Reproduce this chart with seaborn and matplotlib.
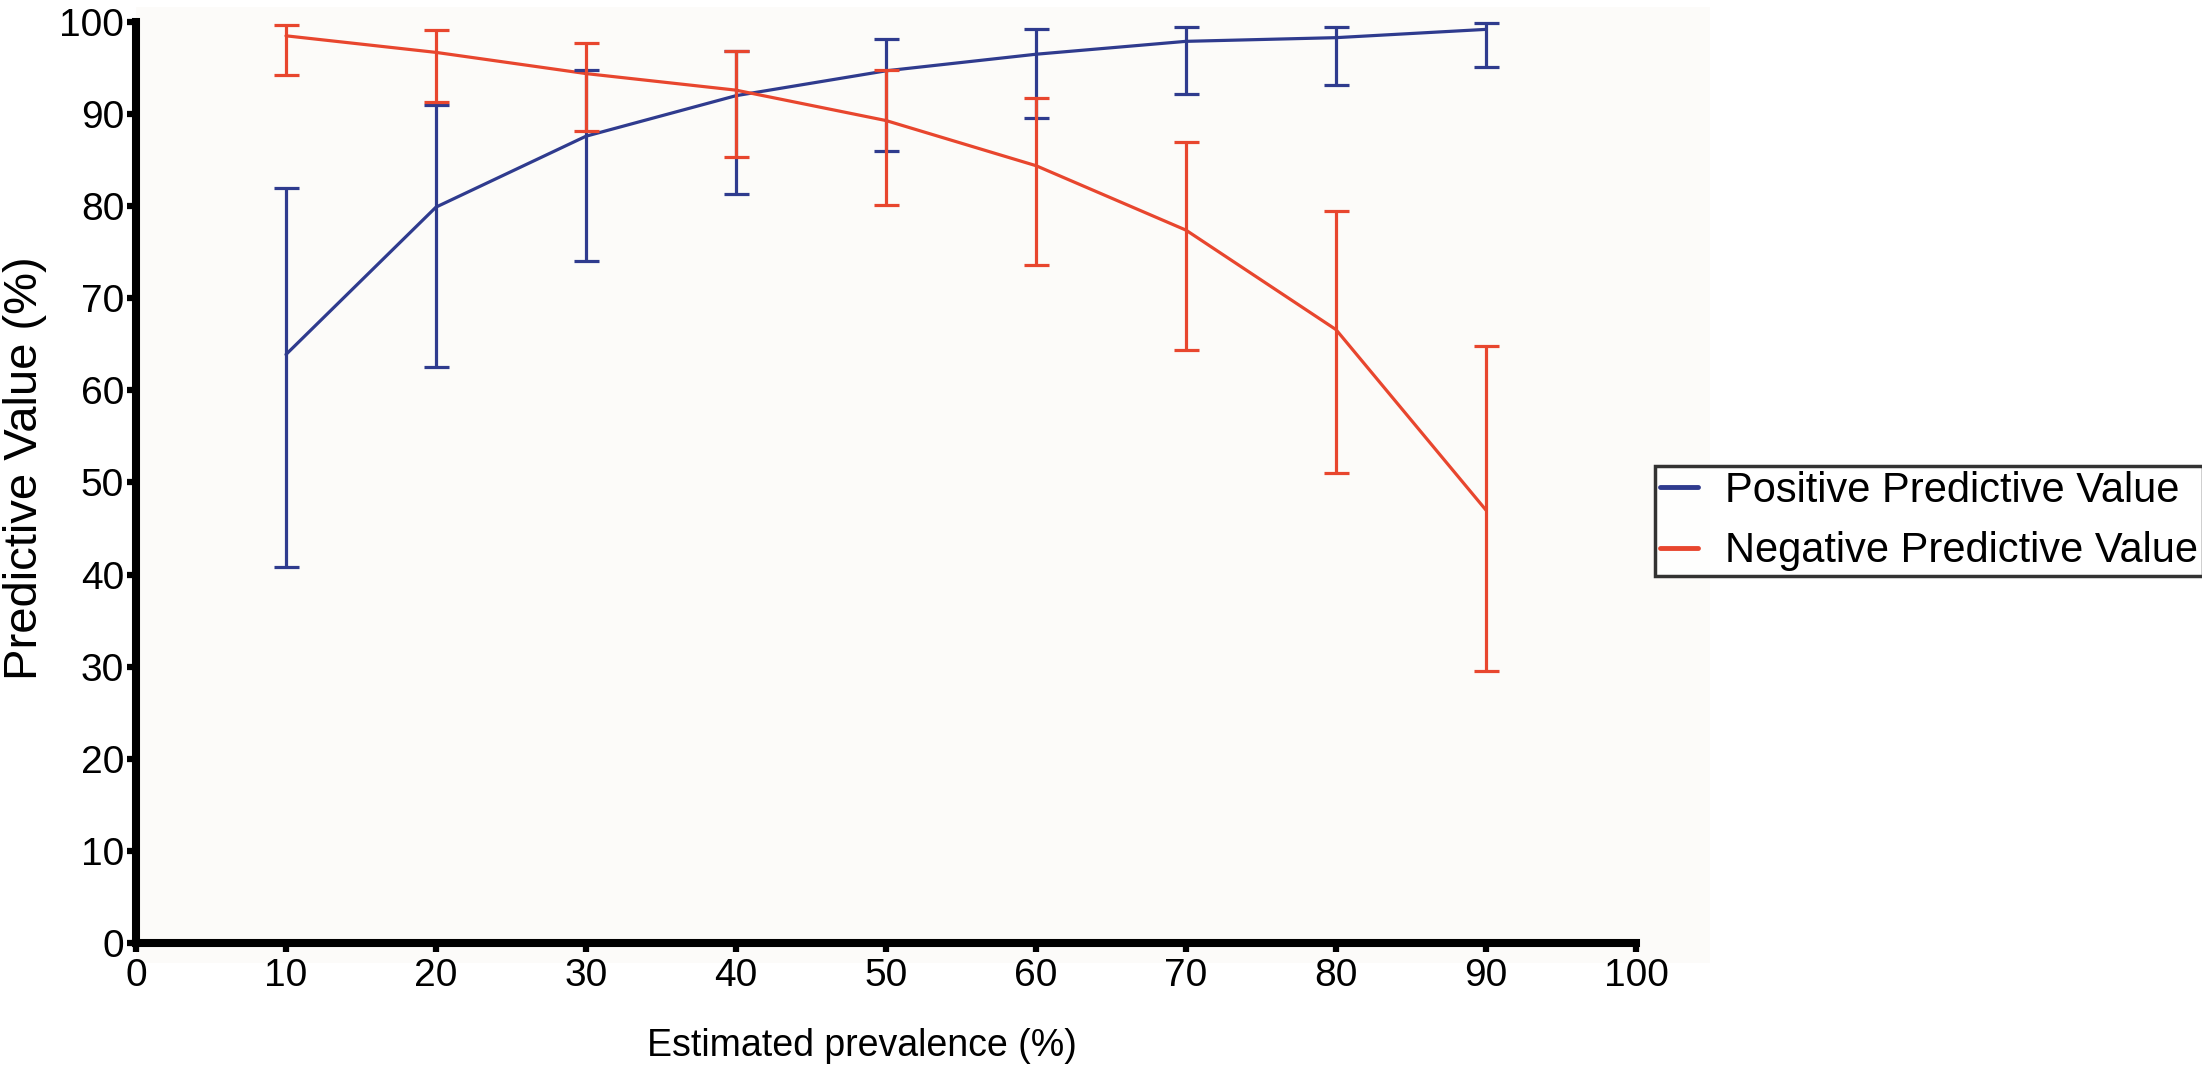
import numpy as np
import pandas as pd
import matplotlib
matplotlib.use("Agg")
import matplotlib.pyplot as plt
from matplotlib import font_manager
import seaborn as sns
from matplotlib.patches import Rectangle

# values
prevalence = [10, 20, 30, 40, 50, 60, 70, 80, 90]
ppv = [63.9, 79.9, 87.6, 92.0, 94.7, 96.5, 97.9, 98.3, 99.2]
ppv_low = [40.8, 62.5, 74.1, 81.3, 86.0, 89.6, 92.2, 93.2, 95.1]
ppv_high = [82.0, 91.0, 94.8, 96.9, 98.1, 99.2, 99.5, 99.5, 99.9]
npv = [98.5, 96.7, 94.4, 92.6, 89.3, 84.4, 77.4, 66.6, 47.0]
npv_low = [94.2, 91.3, 88.2, 85.3, 80.1, 73.6, 64.4, 51.0, 29.5]
npv_high = [99.7, 99.1, 97.7, 96.8, 94.8, 91.7, 87.0, 79.5, 64.8]

labels = ["Positive Predictive Value", "Negative Predictive Value"]
blue = "#2f3b8e"
red = "#e8462e"

df = pd.DataFrame({
    "prevalence": prevalence * 2,
    "value": ppv + npv,
    "series": [labels[0]] * len(ppv) + [labels[1]] * len(npv),
})

sns.set_theme(style="ticks")
plt.rcParams['font.family'] = ['Liberation Sans', 'DejaVu Sans']
plt.rcParams['text.color'] = 'black'
plt.rcParams['axes.labelcolor'] = 'black'
plt.rcParams['xtick.color'] = 'black'
plt.rcParams['ytick.color'] = 'black'

# legend text in the reference is a condensed face
installed = {f.name for f in font_manager.fontManager.ttflist}
if 'Liberation Sans Narrow' in installed:
    legend_font = {'family': 'Liberation Sans Narrow', 'size': 35}
else:
    legend_font = {'family': 'Liberation Sans', 'size': 30}

fig = plt.figure(figsize=(22.02, 10.74), dpi=100)
fig.patch.set_facecolor("white")
# faint off-white panel behind the plot
fig.patches.append(Rectangle((136 / 2202, 1 - 963 / 1074), (1710 - 136) / 2202, (963 - 7) / 1074,
                             transform=fig.transFigure, facecolor="#fcfbf9", edgecolor="none", zorder=-1))

ax = fig.add_axes([136 / 2202, 1 - 943 / 1074, 1500 / 2202, 921 / 1074])
ax.set_facecolor("#fcfbf9")

sns.lineplot(data=df, x="prevalence", y="value", hue="series", palette=[blue, red],
             linewidth=2.3, ax=ax, legend=False, zorder=3)

for mid, lo, hi, col in [(ppv, ppv_low, ppv_high, blue), (npv, npv_low, npv_high, red)]:
    mid = np.array(mid)
    err = [mid - np.array(lo), np.array(hi) - mid]
    ax.errorbar(prevalence, mid, yerr=err, fmt="none", ecolor=col, elinewidth=2.3,
                capsize=9, capthick=2.3, zorder=3, clip_on=False)

ax.set_xlim(0, 100)
ax.set_ylim(0, 100)
ax.set_xticks(range(0, 101, 10))
ax.set_yticks(range(0, 101, 10))
ax.tick_params(axis="both", labelsize=28, length=6.5, width=4.5, color="black", pad=2)
ax.tick_params(axis="x", pad=4)

for side in ["top", "right"]:
    ax.spines[side].set_visible(False)
for side in ["left", "bottom"]:
    ax.spines[side].set_linewidth(5.8)
    ax.spines[side].set_color("black")
    ax.spines[side].set_capstyle("projecting")

ax.set_xlabel("Estimated prevalence (%)", fontsize=27, va="center")
ax.xaxis.set_label_coords(0.484, -0.112)
ax.set_ylabel("Predictive Value (%)", fontsize=34, va="center", ha="center")
ax.yaxis.set_label_coords(-0.074, 0.516)

handles = [plt.Line2D([], [], color=blue, linewidth=3.5),
           plt.Line2D([], [], color=red, linewidth=3.5)]
leg = fig.legend(handles, labels, loc="center left", bbox_to_anchor=(1655 / 2202, 1 - 521 / 1074),
                 prop=legend_font, frameon=True, fancybox=False, handlelength=0.9, handletextpad=0.65,
                 borderpad=0.12, labelspacing=0.5, borderaxespad=0)
leg.get_frame().set_edgecolor("black")
leg.get_frame().set_linewidth(2.5)
leg.get_frame().set_facecolor("white")

fig.savefig("out.png", dpi=100)
